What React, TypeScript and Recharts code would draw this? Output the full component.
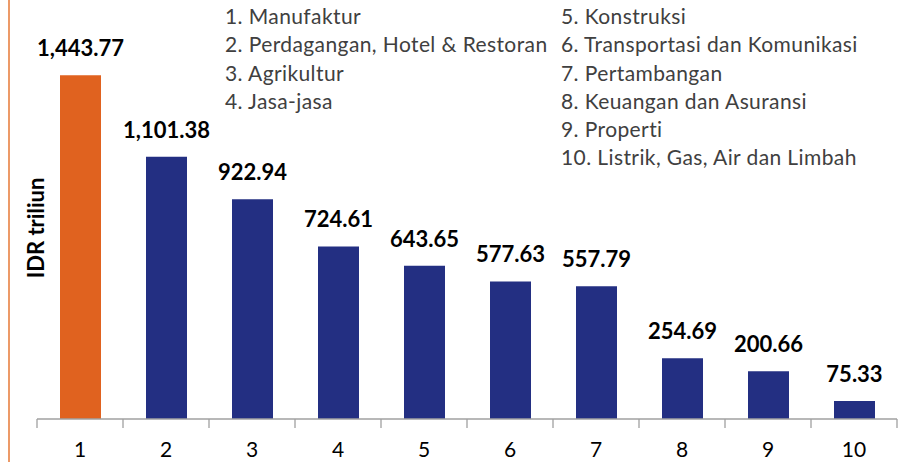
import React from 'react';
import { BarChart, Bar, XAxis, YAxis, Cell, LabelList } from 'recharts';

// sectors, numbered 1..10 on the axis
const sectors = [
  'Manufaktur',
  'Perdagangan, Hotel & Restoran',
  'Agrikultur',
  'Jasa-jasa',
  'Konstruksi',
  'Transportasi dan Komunikasi',
  'Pertambangan',
  'Keuangan dan Asuransi',
  'Properti',
  'Listrik, Gas, Air dan Limbah',
];
const values = [1443.77, 1101.38, 922.94, 724.61, 643.65, 577.63, 557.79, 254.69, 200.66, 75.33];
const yDomain = [0, 1600];

const ORANGE = '#E0621F';
const BLUE = '#232F82';
const W = 901;
const H = 462;
const LEFT = 37;
const RIGHT = 4;
const BAND = (W - LEFT - RIGHT) / values.length;

const data = values.map((v, i) => ({ cat: String(i + 1), name: sectors[i], value: v }));

const fmt = (v: number) =>
  v.toLocaleString('en-US', { minimumFractionDigits: 2, maximumFractionDigits: 2 });

const AxisTick = (props: any) => {
  const { x, y, payload, index } = props;
  const half = BAND / 2;
  const last = index === values.length - 1;
  return (
    <g>
      <line x1={x - half} x2={x - half} y1={y} y2={y + 9} stroke="#A0A0A0" strokeWidth={1.3} />
      {last && <line x1={x + half} x2={x + half} y1={y} y2={y + 9} stroke="#A0A0A0" strokeWidth={1.3} />}
      <text x={x} y={y + 38} textAnchor="middle" fontSize={21} fill="#000" fontFamily="Lato, sans-serif">
        {payload.value}
      </text>
    </g>
  );
};

const legendText: React.CSSProperties = {
  position: 'absolute',
  fontFamily: 'Lato, sans-serif',
  fontSize: 21,
  letterSpacing: 0.4,
  color: '#404040',
  whiteSpace: 'nowrap',
  lineHeight: '28.3px',
};

export default function App() {
  const left = sectors.slice(0, 4);
  const right = sectors.slice(4);
  return (
    <div style={{ position: 'absolute', left: 0, top: 0, width: W, height: H, background: '#fff' }}>
      <div style={{ position: 'absolute', left: 8, top: 0, width: 2, height: H, background: '#EC9A68' }} />
      <BarChart
        width={W}
        height={H}
        data={data}
        margin={{ top: 38, right: RIGHT, left: LEFT, bottom: 0 }}
      >
        <YAxis hide domain={yDomain} />
        <XAxis
          dataKey="cat"
          height={43}
          axisLine={{ stroke: '#A0A0A0', strokeWidth: 1.3 }}
          tickLine={false}
          tickSize={0}
          tickMargin={0}
          interval={0}
          tick={<AxisTick />}
        />
        <Bar dataKey="value" barSize={41} isAnimationActive={false}>
          {data.map((d, i) => (
            <Cell key={d.cat} fill={i === 0 ? ORANGE : BLUE} />
          ))}
          <LabelList
            dataKey="value"
            position="top"
            offset={19}
            formatter={(v: any) => fmt(Number(v))}
            style={{ fontFamily: 'Lato, sans-serif', fontSize: 22, fontWeight: 700, fill: '#000' }}
          />
        </Bar>
      </BarChart>
      <div style={{ ...legendText, left: 225, top: 2 }}>
        {left.map((s, i) => (
          <div key={s}>{`${i + 1}. ${s}`}</div>
        ))}
      </div>
      <div style={{ ...legendText, left: 561, top: 2 }}>
        {right.map((s, i) => (
          <div key={s}>{`${i + 5}. ${s}`}</div>
        ))}
      </div>
      <div
        style={{
          position: 'absolute',
          left: 35,
          top: 228,
          transform: 'translate(-50%, -50%) rotate(-90deg)',
          fontFamily: 'Lato, sans-serif',
          fontWeight: 700,
          fontSize: 22,
          color: '#000',
          whiteSpace: 'nowrap',
        }}
      >
        IDR triliun
      </div>
    </div>
  );
}
